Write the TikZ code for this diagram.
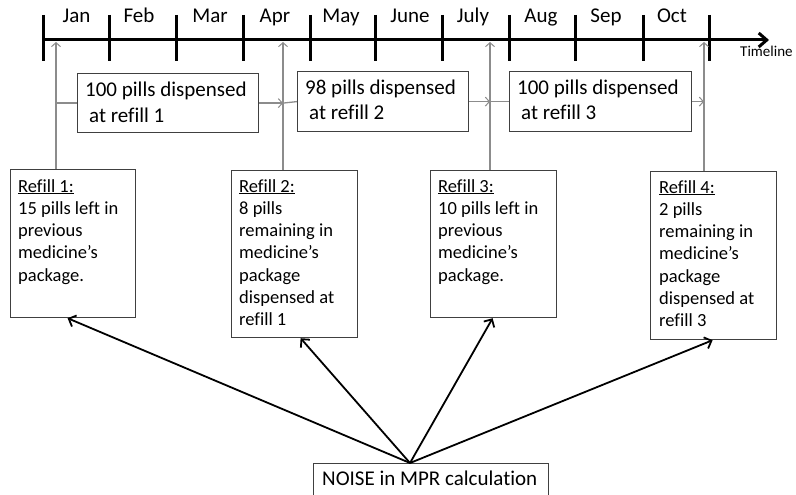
\documentclass[tikz,border=0pt]{standalone}
\usepackage{fontspec}
\setmainfont{Carlito}[Ligatures={NoCommon}]
\usetikzlibrary{arrows.meta}

\begin{document}
\begin{tikzpicture}[x=1pt,y=-1pt,
  box/.style={draw=black!75, line width=1.2pt, inner sep=0pt, anchor=north west},
  link/.style={draw=black!45, line width=1.3pt},
  linkarrow/.style={link, -{Straight Barb[length=4pt,width=9pt,line width=1pt]}},
  noisearrow/.style={line width=1.8pt, -{Straight Barb[length=6pt,width=12pt]}},
  tickmark/.style={line width=3pt},
  month/.style={font=\fontsize{21}{25}\selectfont, anchor=base, inner sep=0pt},
  bigtext/.style={font=\fontsize{21}{25}\selectfont, anchor=base west, inner sep=0pt},
  smalltext/.style={font=\fontsize{18.5}{22.3}\selectfont, anchor=base west, inner sep=0pt},
]
\clip (0,0) rectangle (796,495);

% timeline with month ticks
\draw[tickmark, -{Straight Barb[length=8pt,width=14pt]}] (43,40) -- (769,40);
\foreach \x in {43,109,176,243,310,375,442,509,575,643,709}
  \draw[tickmark] (\x,15) -- (\x,61);
\foreach \x/\m [count=\i] in {76.5/Jan,139/Feb,210/Mar,275/Apr,341/May,410/June,473/July,541/Aug,606/Sep,672/Oct}
  \node[month] (m\i) at (\x,23) {\m};
\node[font=\fontsize{15}{18}\selectfont, anchor=base west, inner sep=0pt] (tl) at (740,57) {Timeline};

% refill instants on the timeline
\coordinate (t1) at (56,42);
\coordinate (t2) at (283,42);
\coordinate (t3) at (490,42);
\coordinate (t4) at (704,42);

% dispensed boxes
\node[box, minimum width=181pt, minimum height=59pt] (b1) at (77,73) {};
\node[box, minimum width=171pt, minimum height=60pt] (b2) at (297,71) {};
\node[box, minimum width=182pt, minimum height=60pt] (b3) at (509,71) {};
\node[bigtext] (b1t) at (85,97) {\parbox[t]{180pt}{100 pills dispensed\\\hspace*{4pt}at refill 1}};
\node[bigtext] (b2t) at (305,95) {\parbox[t]{170pt}{98 pills dispensed\\\hspace*{4pt}at refill 2}};
\node[bigtext] (b3t) at (517,95) {\parbox[t]{180pt}{100 pills dispensed\\\hspace*{4pt}at refill 3}};

% refill boxes
\node[box, minimum width=125pt, minimum height=148pt] (r1) at (10,169) {};
\node[box, minimum width=126pt, minimum height=167pt] (r2) at (231,170) {};
\node[box, minimum width=126pt, minimum height=147pt] (r3) at (430,170) {};
\node[box, minimum width=126pt, minimum height=168pt] (r4) at (650,171) {};
\node[smalltext] (r1t) at (18,192) {\parbox[t]{120pt}{\underline{Refill 1:}\\15 pills left in\\previous\\medicine’s\\package.}};
\node[smalltext] (r2t) at (239,192) {\parbox[t]{120pt}{\underline{Refill 2:}\\8 pills\\remaining in\\medicine’s\\package\\dispensed at\\refill 1}};
\node[smalltext] (r3t) at (438,192) {\parbox[t]{120pt}{\underline{Refill 3:}\\10 pills left in\\previous\\medicine’s\\package.}};
\node[smalltext] (r4t) at (659,193) {\parbox[t]{120pt}{\underline{Refill 4:}\\2 pills\\remaining in\\medicine’s\\package\\dispensed at\\refill 3}};

% refill boxes point up to the timeline
\draw[linkarrow] (r1.north -| t1) -- (t1);
\draw[linkarrow] (r2.north -| t2) -- (t2);
\draw[linkarrow] (r3.north -| t3) -- (t3);
\draw[linkarrow] (r4.north -| t4) -- (t4);

% dispensed boxes chained between refills
\draw[link] (b1.west -| t1) -- (b1.west);
\draw[linkarrow] (b1.east) -- (b1.east -| t2);
\draw[link] (b1.east -| t2) -- (b2.west);
\draw[linkarrow] (b2.east) -- (b2.east -| t3);
\draw[link] (b2.east -| t3) -- (b3.west);
\draw[linkarrow] (b3.east) -- (b3.east -| t4);

% noise box
\node[box, minimum width=235pt, minimum height=40pt] (noise) at (313,463) {};
\node[bigtext] (noiset) at (322,485) {NOISE in MPR calculation};
\coordinate (src) at (410,463);
\draw[noisearrow] (src) -- ([xshift=-5.5pt]r1.south);
\draw[noisearrow] (src) -- ([xshift=6pt]r2.south);
\draw[noisearrow] (src) -- ([xshift=-1pt]r3.south);
\draw[noisearrow] (src) -- ([xshift=-1pt]r4.south);
\end{tikzpicture}
\end{document}
